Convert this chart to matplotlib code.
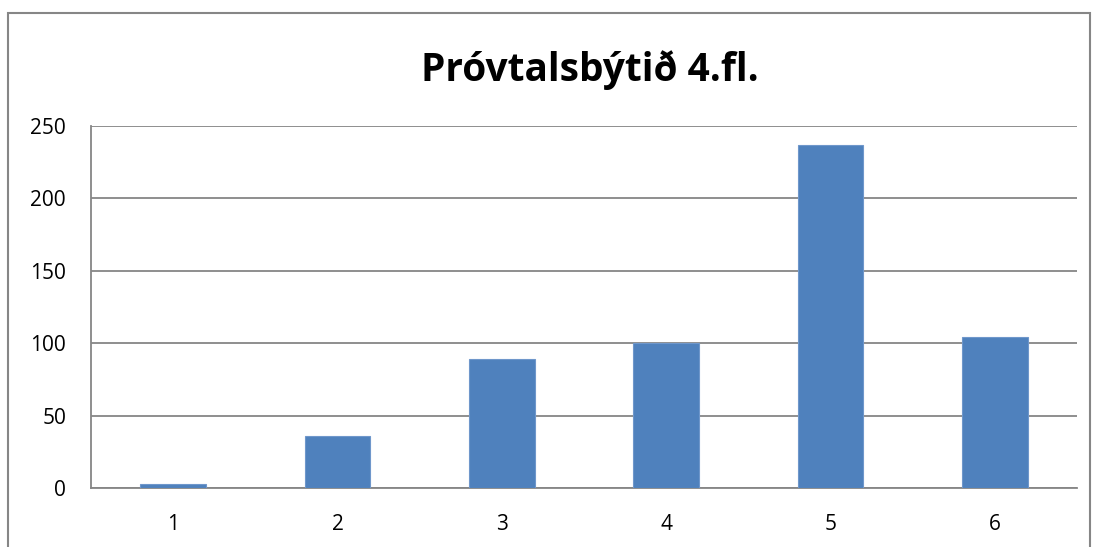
import matplotlib
matplotlib.use("Agg")
import matplotlib.pyplot as plt
from matplotlib.patches import Rectangle

# data
categories = ["1", "2", "3", "4", "5", "6"]
counts = [3, 36, 89, 100, 237, 104]
y_ticks = [0, 50, 100, 150, 200, 250]

title = "Próvtalsbýtið 4.fl."
bar_color = "#4F81BD"
grid_color = "#868686"

plt.rcParams["font.family"] = ["Open Sans", "DejaVu Sans"]

fig = plt.figure(figsize=(10.93, 5.47), dpi=100)
ax = fig.add_axes([0.0833, 0.1079, 0.9021, 0.6618])

x = list(range(len(categories)))
ax.bar(x, counts, width=0.4, color=bar_color, edgecolor="#6F97CB", linewidth=0.8, zorder=3)

ax.set_xlim(-0.5, len(categories) - 0.5)
ax.set_ylim(0, 250)
ax.set_yticks(y_ticks)
ax.set_xticks(x)
ax.set_xticklabels(categories)
ax.tick_params(axis="both", length=0, labelsize=15, colors="black")
ax.tick_params(axis="y", pad=18)
ax.tick_params(axis="x", pad=19)

ax.yaxis.grid(True, color=grid_color, linewidth=1.3, zorder=0)
for side in ["top", "right"]:
    ax.spines[side].set_visible(False)
for side in ["left", "bottom"]:
    ax.spines[side].set_color(grid_color)
    ax.spines[side].set_linewidth(1.3)

fig.text(0.54, 0.872, title, ha="center", va="center", fontsize=28, fontweight="bold")

# outer chart border
fig.patches.append(Rectangle((8 / 1093, -0.02), 1082 / 1093, 1.02 - 13 / 547,
                             transform=fig.transFigure, fill=False,
                             edgecolor=grid_color, linewidth=1.5))

fig.savefig("out.png", dpi=100)
